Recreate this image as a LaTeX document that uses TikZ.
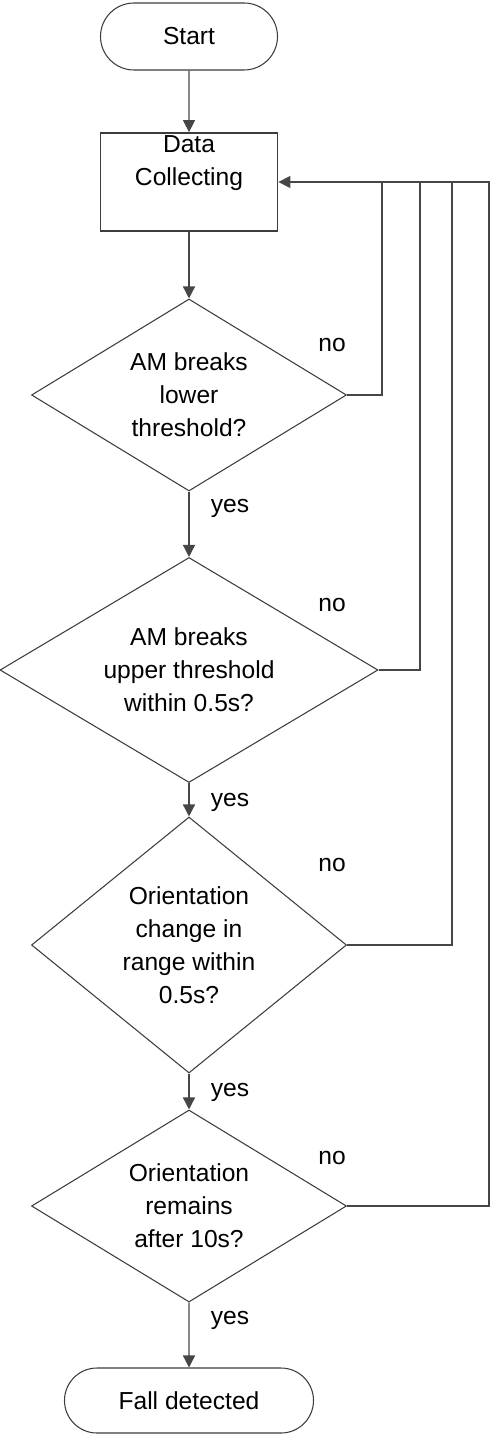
\documentclass[tikz,border=0pt]{standalone}
\usepackage{fontspec}
\setmainfont{Liberation Sans}
\usetikzlibrary{shapes.geometric,shapes.misc,arrows.meta}
\definecolor{flowline}{RGB}{70,70,70}
\definecolor{shapeline}{RGB}{60,60,60}

\begin{document}
\begin{tikzpicture}[
    txt/.style={font=\fontsize{14}{18.8}\selectfont, align=center},
    terminal/.style={txt, rounded rectangle, draw=shapeline, line width=0.6pt, inner sep=0pt},
    procbox/.style={txt, rectangle, draw=shapeline, line width=1pt, inner sep=0pt},
    decision/.style={txt, diamond, draw=shapeline, line width=0.6pt, inner sep=0pt, minimum width=6.3cm, minimum height=3.84cm},
    lbl/.style={font=\fontsize{14}{16}\selectfont},
    flow/.style={flowline, line width=0.8pt},
    arrow/.style={flow, -{Triangle[length=0.24cm,width=0.24cm]}}
]
    \useasboundingbox (0,0) rectangle (9.86,-28.7);

    % Start and data collection
    \node[terminal, minimum width=3.54cm, minimum height=1.34cm] (start) at (3.78,-0.73) {Start};
    \node[procbox, minimum width=3.54cm, minimum height=1.96cm] (data) at (3.78,-3.64) {Data\\Collecting\\ \strut};

    % Decisions
    \node[decision, aspect=1.64] (low) at (3.78,-7.90) {AM breaks\\lower\\threshold?};
    \node[decision, aspect=1.69, minimum width=7.56cm, minimum height=4.5cm] (up) at (3.78,-13.40) {AM breaks\\upper threshold\\within 0.5s?};
    \node[decision, aspect=1.23, minimum height=5.12cm] (orient) at (3.78,-18.90) {Orientation\\change in\\range within\\0.5s?};
    \node[decision, aspect=1.64] (remain) at (3.78,-24.12) {Orientation\\remains\\after 10s?};

    % End
    \node[terminal, minimum width=4.98cm, minimum height=1.3cm] (fall) at (3.78,-28.01) {Fall detected};

    % Main flow
    \draw[arrow] (start) -- (data);
    \draw[arrow] (data) -- (low);
    \draw[arrow] (low) -- (up);
    \draw[arrow] (up) -- (orient);
    \draw[arrow] (orient) -- (remain);
    \draw[arrow] (remain) -- (fall);

    % Feedback loops
    \coordinate (r1) at (7.64,-3.64);
    \coordinate (r2) at (8.40,-3.64);
    \coordinate (r3) at (9.04,-3.64);
    \coordinate (r4) at (9.78,-3.64);
    \draw[flow] (low.east) -| (r1);
    \draw[flow] (up.east) -| (r2);
    \draw[flow] (orient.east) -| (r3);
    \draw[arrow] (remain.east) -| (r4) -- (data.east);

    % Branch labels
    \node[lbl] (no1) at (6.64,-6.90) {no};
    \node[lbl] (no2) at (6.64,-12.10) {no};
    \node[lbl] (no3) at (6.64,-17.30) {no};
    \node[lbl] (no4) at (6.64,-23.16) {no};
    \node[lbl] (yes1) at (4.60,-10.16) {yes};
    \node[lbl] (yes2) at (4.60,-16.04) {yes};
    \node[lbl] (yes3) at (4.60,-21.84) {yes};
    \node[lbl] (yes4) at (4.60,-26.40) {yes};
\end{tikzpicture}
\end{document}
